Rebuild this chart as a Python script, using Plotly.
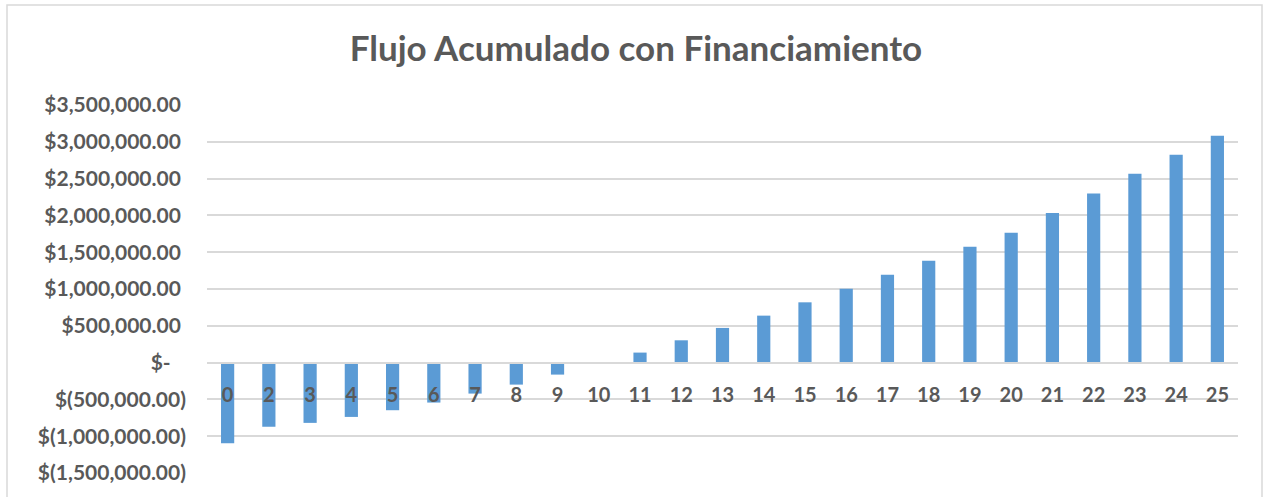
import plotly.graph_objects as go

periods = ["0", "2", "3", "4", "5", "6", "7", "8", "9", "10", "11", "12", "13",
           "14", "15", "16", "17", "18", "19", "20", "21", "22", "23", "24", "25"]
flujo_acumulado = [-1095000, -873000, -819000, -738000, -647000, -543000, -421000,
                   -299000, -163000, -10000, 136000, 303000, 471000, 638000, 819000,
                   1005000, 1195000, 1385000, 1575000, 1765000, 2032000, 2299000,
                   2566000, 2824000, 3081000]
y_tick_values = [-1500000, -1000000, -500000, 0, 500000, 1000000, 1500000,
                 2000000, 2500000, 3000000, 3500000]
y_tick_labels = ["$(1,500,000.00)", "$(1,000,000.00)", "$(500,000.00)", "$-\u00a0\u00a0\u00a0",
                 "$500,000.00\u00a0", "$1,000,000.00\u00a0", "$1,500,000.00\u00a0",
                 "$2,000,000.00\u00a0", "$2,500,000.00\u00a0", "$3,000,000.00\u00a0",
                 "$3,500,000.00\u00a0"]
title_text = "Flujo Acumulado con Financiamiento"

W, H = 1267, 497
ml, mr, mt, mb = 207, 29, 105, 24
ymin, ymax = -1500000, 3500000
zero_frac = (0 - ymin) / (ymax - ymin)

font_family = "Lato, 'Open Sans', sans-serif"
gray = "#595959"
grid = "#d9d9d9"

fig = go.Figure()
fig.add_trace(go.Bar(x=periods, y=flujo_acumulado, marker=dict(color="#5B9BD5", line=dict(width=0)),
                     width=0.32))

fig.update_layout(
    width=W, height=H,
    margin=dict(l=ml, r=mr, t=mt, b=mb),
    paper_bgcolor="white", plot_bgcolor="white",
    showlegend=False,
    title=dict(text="<b>" + title_text + "</b>", x=636 / W, xanchor="center", xref="container",
               y=1 - 49 / H, yanchor="middle", yref="container",
               font=dict(family=font_family, size=35, color=gray)),
    xaxis=dict(type="category", anchor="free", position=zero_frac,
               showgrid=False, showline=True, linecolor=grid, linewidth=2,
               ticks="", ticklabelstandoff=14,
               tickfont=dict(family=font_family, size=20, color=gray),
               range=[-0.5, len(periods) - 0.5]),
    yaxis=dict(range=[ymin, ymax], domain=[0, 1], tickmode="array",
               tickvals=y_tick_values, ticktext=["<b>" + t + "</b>" for t in y_tick_labels],
               showgrid=True, gridcolor=grid, gridwidth=2, zeroline=False,
               showline=False, ticks="", ticklabelstandoff=20,
               tickfont=dict(family=font_family, size=21, color=gray)),
)
fig.update_xaxes(ticktext=["<b>" + p + "</b>" for p in periods], tickvals=periods, tickmode="array")

plot_w = W - ml - mr
plot_h = H - mt - mb
fig.add_shape(type="rect", xref="paper", yref="paper",
              x0=(7 - ml) / plot_w, x1=(1262 - ml) / plot_w,
              y0=(H - mb - 510) / plot_h, y1=1 + (mt - 5) / plot_h,
              line=dict(color=grid, width=1.5), fillcolor="rgba(0,0,0,0)", layer="below")

fig.write_html("out.html", config={"displayModeBar": False},
               post_script="document.body.style.margin='0';document.body.style.overflow='hidden';")
